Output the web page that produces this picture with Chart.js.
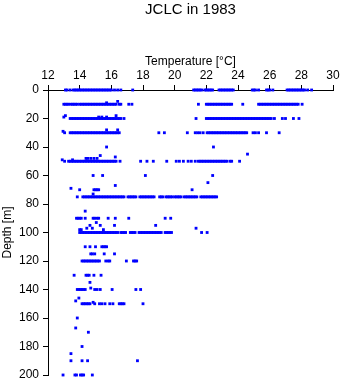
<!DOCTYPE html>
<html>
<head>
<meta charset="utf-8">
<script src="https://cdn.jsdelivr.net/npm/chart.js@4"></script>
<style>
  html, body { margin: 0; padding: 0; background: #fff; }
  canvas { display: block; }
</style>
</head>
<body>
<canvas id="myChart" width="341" height="384"></canvas>
<script>
// depth [m] of each row of readings, and the temperatures [°C] read at that depth
const depths = [
  0, 8, 9, 10, 18, 19, 20, 28, 29, 30, 40, 45, 46, 47, 48, 49, 50,
  60, 65, 67, 69, 70, 73, 75, 85, 90, 93, 95, 97, 98, 100,
  110, 115, 120, 130, 135, 139, 140, 146, 148, 149, 150,
  160, 167, 170, 180, 185, 190, 200
];

const temps = [
  // 0
  [13.1, 13.2, 13.4, 13.6, 13.7, 13.8, 13.9, 14.0, 14.1, 14.2, 14.3, 14.4, 14.5, 14.6, 14.7, 14.8, 14.9,
   15.0, 15.1, 15.2, 15.3, 15.4, 15.5, 15.6, 15.7, 15.8, 15.9, 16.0, 16.2, 16.4, 16.6, 17.35,
   21.2, 21.3, 21.4, 21.5, 21.6, 21.7, 21.9, 22.0, 22.1, 22.2, 22.3, 22.4,
   22.8, 22.9, 23.0, 23.1, 23.2, 23.3, 23.4, 23.5, 23.6, 23.7,
   24.9, 25.0, 25.1, 25.3, 25.8, 25.9, 26.0, 26.2,
   27.1, 27.2, 27.3, 27.4, 27.5, 27.6, 27.7, 27.8, 27.9, 28.0, 28.1, 28.2, 28.4, 28.65],
  // 8, 9
  [16.4],
  [15.7],
  // 10
  [13.0, 13.1, 13.2, 13.3, 13.45, 13.55, 13.65, 13.75, 13.85,
   14.0, 14.1, 14.2, 14.3, 14.4, 14.5, 14.6, 14.7, 14.8, 14.9, 15.0, 15.1, 15.2, 15.3, 15.4, 15.5,
   15.6, 15.7, 15.8, 15.9, 16.0, 16.1, 16.2, 16.3, 16.5, 16.6, 17.1, 17.3,
   21.5, 22.0, 22.1, 22.2, 22.3, 22.4, 22.5, 22.6, 22.7, 22.8, 22.9, 23.0, 23.1, 23.2, 23.3, 23.4, 23.5, 23.6,
   24.3, 25.3, 25.4, 25.5, 25.6, 25.7, 25.8, 25.9, 26.0, 26.1, 26.2, 26.3, 26.4, 26.5, 26.6, 26.7,
   26.8, 26.9, 27.0, 27.1, 27.2, 27.3, 27.4, 27.5, 27.6, 27.7, 27.8, 28.05],
  // 18, 19
  [13.1, 16.3],
  [13.0, 15.2, 15.4, 15.7],
  // 20
  [13.4, 13.5, 13.6, 13.7, 13.8, 13.9, 14.0, 14.1, 14.2, 14.3, 14.4, 14.5, 14.6, 14.7, 14.8, 14.9,
   15.0, 15.1, 15.2, 15.3, 15.4, 15.5, 15.6, 15.7, 15.8, 15.9, 16.0, 16.1, 16.2, 16.3, 16.4, 16.5, 16.6, 16.8,
   21.35, 22.0, 22.1, 22.2, 22.3, 22.4, 22.5, 22.6, 22.7, 22.8, 22.9, 23.0, 23.1, 23.2, 23.3, 23.4, 23.5,
   23.6, 23.7, 23.8, 23.9, 24.0, 24.1, 24.2, 24.3, 24.4, 24.5, 24.6, 24.7, 24.8, 24.9, 25.0, 25.1, 25.2,
   25.3, 25.4, 25.5, 25.6, 25.7, 25.8, 25.9, 26.0, 26.1, 26.3, 26.8, 27.0, 27.5, 27.85],
  // 28, 29
  [15.7, 16.4],
  [12.95],
  // 30
  [13.05, 13.4, 13.5, 13.6, 13.7, 13.8, 13.9, 14.0, 14.1, 14.2, 14.3, 14.4, 14.5, 14.6, 14.7, 14.8, 14.9,
   15.0, 15.1, 15.2, 15.3, 15.4, 15.5, 15.6, 15.7, 15.8, 15.9, 16.0, 16.1, 16.2, 16.3, 16.4, 16.5,
   19.0, 19.35, 20.8, 21.3, 21.45, 21.6, 21.8,
   22.05, 22.15, 22.25, 22.35, 22.45, 22.55, 22.65, 22.75, 22.85, 22.95, 23.05, 23.15, 23.25, 23.35,
   23.45, 23.55, 23.65, 23.75, 23.85, 23.95, 24.05, 24.15, 24.25, 24.35, 24.45, 24.55,
   24.95, 25.1, 25.3, 25.8, 26.6],
  // 40, 45, 46, 47, 48, 49
  [15.7, 22.45],
  [24.6],
  [15.3],
  [16.25],
  [14.4, 14.5, 14.7, 14.9, 15.1],
  [12.9, 13.55],
  // 50
  [13.05, 13.3, 13.4, 13.5, 13.6, 13.7, 13.8, 13.9, 14.0, 14.1, 14.2, 14.3, 14.4, 14.5, 14.6, 14.7, 14.8,
   14.9, 15.0, 15.1, 15.2, 15.3, 15.4, 15.5, 15.6, 15.7, 15.8, 15.9, 16.0, 16.1, 16.2, 16.3, 16.55,
   17.85, 18.25, 18.65, 19.5, 20.1, 20.3, 20.55, 20.85, 21.05, 21.3,
   21.5, 21.6, 21.7, 21.8, 21.9, 22.0, 22.1, 22.2, 22.3, 22.4, 22.5, 22.6, 22.7, 22.8, 22.9, 23.0,
   23.1, 23.2, 23.3, 23.5, 23.6, 24.1],
  // 60, 65, 67, 69, 70, 73
  [14.85, 15.45, 18.15, 22.4],
  [22.1],
  [16.25],
  [13.45],
  [14.0, 14.9, 15.0, 15.1, 15.2, 21.1],
  [14.85],
  // 75
  [13.85, 14.2, 14.3, 14.4, 14.5, 14.6, 14.7, 14.8, 14.9, 15.0, 15.1, 15.2, 15.3, 15.4, 15.5, 15.6,
   15.7, 15.8, 15.9, 16.0, 16.1, 16.2, 16.3, 16.4, 16.5, 16.6, 16.7, 16.8,
   17.05, 17.15, 17.25, 17.35, 17.45, 17.55, 17.8, 17.9, 18.0, 18.1, 18.2, 18.3, 18.4, 18.5, 18.6, 18.7,
   19.05, 19.15, 19.25, 19.45, 19.55, 19.65, 19.75, 19.85, 20.0, 20.1, 20.2, 20.3, 20.4,
   20.6, 20.7, 20.8, 20.9, 21.0, 21.1, 21.2, 21.3, 21.4,
   21.65, 21.75, 21.85, 21.95, 22.05, 22.15, 22.25, 22.35, 22.45, 22.55, 22.65],
  // 85, 90, 93, 95, 97, 98
  [14.35],
  [13.8, 13.9, 14.0, 14.1, 14.35, 14.85, 14.95, 15.1, 15.2, 15.8, 16.25, 17.1, 19.4, 19.75],
  [15.05],
  [14.65, 15.3, 16.2, 18.8],
  [14.45, 14.8, 21.35],
  [14.0, 14.1, 15.5],
  // 100
  [14.0, 14.1, 14.2, 14.3, 14.4, 14.5, 14.6, 14.7, 14.8, 14.9, 15.0, 15.1, 15.2, 15.3, 15.4, 15.5,
   15.6, 15.7, 15.8, 15.9, 16.0, 16.1, 16.2, 16.3, 16.4, 16.6, 16.7, 16.8, 16.9, 17.2, 17.3, 17.4, 17.5,
   17.75, 17.85, 17.95, 18.05, 18.15, 18.25, 18.35, 18.45, 18.55, 18.65, 18.75, 18.85, 18.95, 19.05, 19.15,
   19.4, 19.5, 19.6, 19.7, 19.8, 21.7, 22.05],
  // 110, 115, 120
  [14.35, 14.65, 15.0, 15.4, 15.5, 15.6, 15.7],
  [14.7, 14.8, 14.95, 15.55, 16.2],
  [14.15, 14.25, 14.35, 14.45, 14.55, 14.65, 14.75, 14.85, 14.95, 15.05, 15.15, 15.25,
   15.65, 15.8, 15.9, 16.95, 17.4, 17.5, 17.6],
  // 130, 135, 139, 140
  [13.65, 14.4, 14.5, 14.6, 14.9, 15.35],
  [14.65],
  [14.7],
  [13.85, 13.95, 14.05, 14.15, 14.25, 14.35, 14.95, 15.1, 15.3, 16.05, 17.55, 17.85],
  // 146, 148, 149, 150
  [13.95],
  [13.75],
  [14.85],
  [14.15, 14.25, 14.35, 14.45, 14.55, 14.65, 14.95, 15.25, 15.4, 15.6, 15.9, 16.1,
   16.5, 16.6, 16.7, 16.8, 18.0],
  // 160 .. 200
  [13.85],
  [13.75],
  [14.55],
  [14.15],
  [13.45],
  [13.45, 14.15, 14.5, 17.65],
  [12.95, 13.7, 13.8, 14.05, 14.15, 14.25, 14.8]
];

const xTicks = [12, 14, 16, 18, 20, 22, 24, 26, 28, 30];
const yTicks = [0, 20, 40, 60, 80, 100, 120, 140, 160, 180, 200];

const points = [];
depths.forEach((d, i) => {
  temps[i].forEach((t) => points.push({ x: t, y: d }));
});

const axisFont = { family: 'Liberation Sans, Arial, sans-serif', size: 12 };

// no extra room for edge labels: the plot box is set by the layout padding only
const noEdgePadding = (scale) => {
  scale.paddingLeft = 0;
  scale.paddingRight = 0;
  scale.paddingTop = 0;
  scale.paddingBottom = 0;
};

new Chart(document.getElementById('myChart'), {
  type: 'scatter',
  data: {
    datasets: [{
      data: points,
      clip: false,
      pointStyle: 'rect',
      pointRadius: 2,
      pointBorderWidth: 0,
      backgroundColor: '#0000ff',
      borderColor: '#0000ff'
    }]
  },
  options: {
    responsive: false,
    animation: false,
    layout: { padding: { left: 0, right: 8, top: 0, bottom: 9 } },
    plugins: {
      legend: { display: false },
      tooltip: { enabled: false },
      title: {
        display: true,
        text: 'JCLC in 1983',
        fullSize: false,
        color: '#000',
        font: { family: 'Liberation Sans, Arial, sans-serif', size: 15, weight: 'normal' },
        padding: { top: 1, bottom: 0 }
      }
    },
    scales: {
      x: {
        type: 'linear',
        position: 'top',
        min: 12,
        max: 30,
        afterBuildTicks: (scale) => { scale.ticks = xTicks.map((v) => ({ value: v })); },
        afterFit: (scale) => { scale.height = 71; noEdgePadding(scale); },
        ticks: { color: '#000', font: axisFont, padding: 2, maxRotation: 0 },
        grid: { drawOnChartArea: false, tickLength: 5, color: '#000' },
        border: { color: '#000', width: 1 },
        title: {
          display: true,
          text: 'Temperature [°C]',
          color: '#000',
          font: axisFont,
          padding: { top: 35, bottom: 0 }
        }
      },
      y: {
        type: 'linear',
        reverse: true,
        min: 0,
        max: 200,
        afterBuildTicks: (scale) => { scale.ticks = yTicks.map((v) => ({ value: v })); },
        afterFit: (scale) => { scale.width = 48; noEdgePadding(scale); },
        ticks: { color: '#000', font: axisFont, padding: 4 },
        grid: { drawOnChartArea: false, tickLength: 5, color: '#000' },
        border: { color: '#000', width: 1 },
        title: {
          display: true,
          text: 'Depth [m]',
          color: '#000',
          font: axisFont,
          padding: { top: 0, bottom: 0 }
        }
      }
    }
  }
});
</script>
</body>
</html>
